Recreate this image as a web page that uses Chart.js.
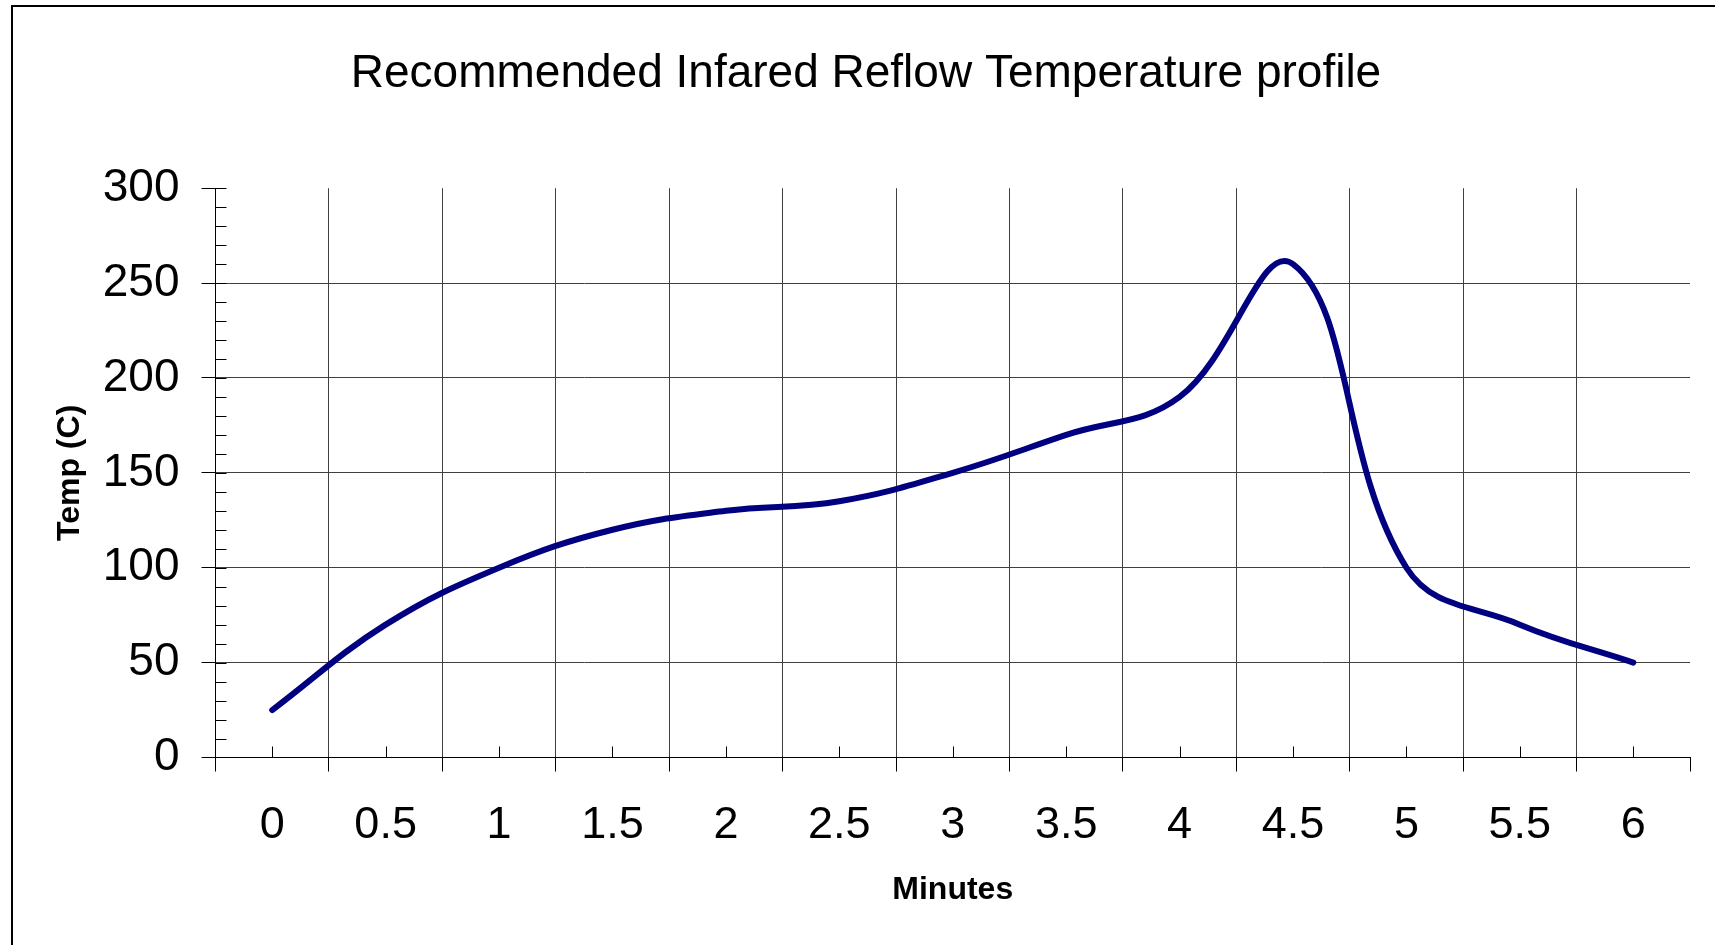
<!DOCTYPE html>
<html>
<head>
<meta charset="utf-8">
<title>Recommended Infared Reflow Temperature profile</title>
<script src="https://cdn.jsdelivr.net/npm/chart.js@4/dist/chart.umd.min.js"></script>
<style>
    html, body { margin: 0; padding: 0; background: #fff; }
    #wrap { position: relative; width: 1715px; height: 945px; }
</style>
</head>
<body>
<div id="wrap"><canvas id="chart"></canvas></div>
<script>
// time along the profile (category labels)
const minutes = ['0', '0.5', '1', '1.5', '2', '2.5', '3', '3.5', '4', '4.5', '5', '5.5', '6'];
// temperature at each label
const temps = [25, 70, 100, 120, 130, 135, 150, 170, 190, 260, 100, 70, 50];
// y axis
const tempMin = 0;
const tempMax = 300;
const tempStep = 50;
const tempMinorStep = 10;

const FONT = "'Liberation Sans', Arial, Helvetica, sans-serif";
const GRID = '#404040';

// white page, outer frame and the small inside ticks Excel draws
const excelDecor = {
    id: 'excelDecor',
    beforeDraw(chart) {
        const { ctx, width, height } = chart;
        ctx.save();
        ctx.fillStyle = '#fff';
        ctx.fillRect(0, 0, width, height);
        ctx.strokeStyle = '#000';
        ctx.lineWidth = 2;
        ctx.beginPath();
        ctx.moveTo(12, height + 5);
        ctx.lineTo(12, 6);
        ctx.lineTo(width + 5, 6);
        ctx.stroke();
        ctx.restore();
    },
    beforeDatasetsDraw(chart) {
        const { ctx, chartArea, scales: { x, y } } = chart;
        ctx.save();
        ctx.strokeStyle = '#000';
        ctx.lineWidth = 1;
        ctx.beginPath();
        for (let v = tempMin + tempMinorStep; v <= tempMax; v += tempMinorStep) {
            const py = Math.round(y.getPixelForValue(v)) + 0.5;
            ctx.moveTo(chartArea.left, py);
            ctx.lineTo(chartArea.left + 11, py);
        }
        minutes.forEach((m, i) => {
            const px = Math.round(x.getPixelForValue(i)) + 0.5;
            ctx.moveTo(px, chartArea.bottom);
            ctx.lineTo(px, chartArea.bottom - 11);
        });
        ctx.stroke();
        ctx.restore();
    }
};

new Chart(document.getElementById('chart'), {
    type: 'line',
    data: {
        labels: minutes,
        datasets: [{
            data: temps,
            borderColor: '#000080',
            borderWidth: 6,
            borderCapStyle: 'round',
            borderJoinStyle: 'round',
            pointRadius: 0,
            tension: 0.4,
            fill: false
        }]
    },
    options: {
        responsive: true,
        maintainAspectRatio: false,
        animation: false,
        layout: { padding: { left: 42, right: 25, top: 0, bottom: 0 } },
        plugins: {
            legend: { display: false },
            tooltip: { enabled: false },
            title: {
                display: true,
                text: 'Recommended Infared Reflow Temperature profile',
                color: '#000',
                font: { family: FONT, size: 46, weight: 'normal' },
                padding: { top: 47, bottom: 86 }
            }
        },
        scales: {
            x: {
                type: 'category',
                offset: true,
                afterFit(scale) { scale.height = 187.5; },
                grid: {
                    offset: true,
                    color: c => (c.type === 'tick' && c.index > 0) ? GRID : 'transparent',
                    lineWidth: 1,
                    tickColor: '#000',
                    tickLength: 14
                },
                border: { display: true, color: '#000', width: 1 },
                ticks: {
                    color: '#000',
                    font: { family: FONT, size: 45 },
                    padding: 27,
                    autoSkip: false,
                    maxRotation: 0
                },
                title: {
                    display: true,
                    text: 'Minutes',
                    color: '#000',
                    font: { family: FONT, size: 32, weight: 'bold' },
                    padding: { top: 0, bottom: 36 }
                }
            },
            y: {
                min: tempMin,
                max: tempMax,
                afterFit(scale) { scale.width = 173.5; },
                grid: {
                    color: c => (c.tick && c.tick.value > tempMin && c.tick.value < tempMax) ? GRID : 'transparent',
                    lineWidth: 1,
                    tickColor: '#000',
                    tickLength: 14
                },
                border: { display: true, color: '#000', width: 1 },
                ticks: {
                    stepSize: tempStep,
                    color: '#000',
                    font: { family: FONT, size: 46 },
                    padding: 22
                },
                title: {
                    display: true,
                    text: 'Temp (C)',
                    color: '#000',
                    font: { family: FONT, size: 32, weight: 'bold' },
                    padding: { top: 9, bottom: 0 }
                }
            }
        }
    },
    plugins: [excelDecor]
});
</script>
</body>
</html>
